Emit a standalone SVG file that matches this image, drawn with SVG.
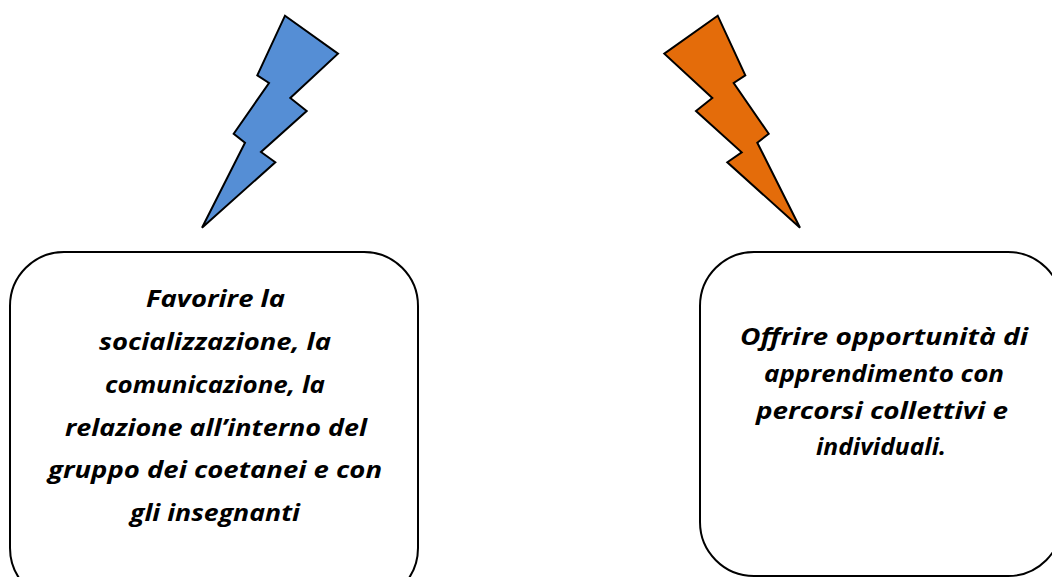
<svg xmlns="http://www.w3.org/2000/svg" width="1052" height="577" viewBox="0 0 1052 577">
<style>
.bolt{stroke:#000;stroke-width:2;stroke-linejoin:miter}
.box{fill:#fff;stroke:#000;stroke-width:2}
text{font-family:"Open Sans","Liberation Sans",sans-serif;font-weight:700;font-style:italic;font-size:24px;fill:#000;text-anchor:middle}
</style>
<rect width="1052" height="577" fill="#fff"/>
<g id="bolt-blue"><polygon class="bolt" fill="#558ed5" points="285,15.7 338,53.7 290.3,98 306.7,111 261,152 275.3,162.3 202,227.7 245,142.7 233.7,133.7 269,83 257.3,75.3"/></g>
<g id="bolt-orange"><polygon class="bolt" fill="#e46c0a" points="717.7,15.7 664.3,53.7 712.3,98 696,111 741.7,152.3 727.3,162.3 800,227.7 757.3,142.7 768.7,133.7 733.7,83 745.3,75.3"/></g>
<g id="box-left">
<rect class="box" x="10" y="252" width="408" height="350" rx="54" ry="54"/>
<text x="215.500" y="307" textLength="139" lengthAdjust="spacingAndGlyphs">Favorire la</text>
<text x="215" y="350" textLength="232" lengthAdjust="spacingAndGlyphs">socializzazione,  la</text>
<text x="215" y="393" textLength="220" lengthAdjust="spacingAndGlyphs">comunicazione,  la</text>
<text x="216" y="436" textLength="302" lengthAdjust="spacingAndGlyphs">relazione all’interno del</text>
<text x="215" y="478" textLength="334" lengthAdjust="spacingAndGlyphs">gruppo dei coetanei e con</text>
<text x="215" y="521" textLength="170" lengthAdjust="spacingAndGlyphs">gli insegnanti</text>
</g>
<g id="box-right">
<rect class="box" x="700" y="252" width="362" height="324" rx="54" ry="54"/>
<text x="884" y="345" textLength="288" lengthAdjust="spacingAndGlyphs">Offrire opportunità di</text>
<text x="884" y="382" textLength="240" lengthAdjust="spacingAndGlyphs">apprendimento con</text>
<text x="882" y="419" textLength="252" lengthAdjust="spacingAndGlyphs">percorsi collettivi e</text>
<text x="881" y="455" textLength="130" lengthAdjust="spacingAndGlyphs">individuali.</text>
</g>
<g id="connectors"/>
</svg>
